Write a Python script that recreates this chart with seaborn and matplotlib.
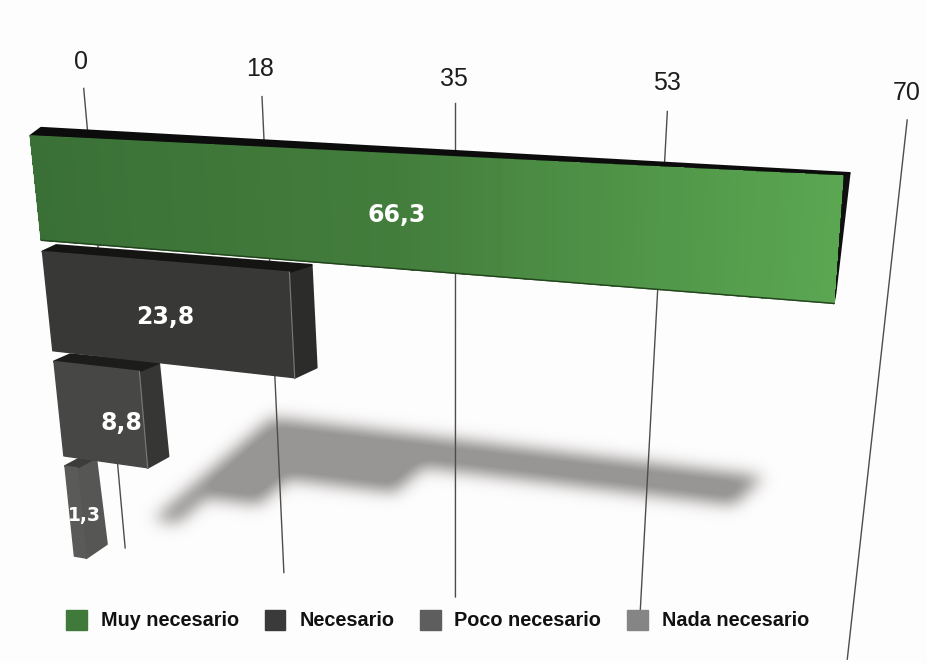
import numpy as np
import pandas as pd
import seaborn as sns
import matplotlib
matplotlib.use("Agg")
import matplotlib.pyplot as plt
from matplotlib import transforms as mt
from matplotlib.colors import LinearSegmentedColormap
from matplotlib.patches import Patch, Polygon
from matplotlib.path import Path

categories = ["Muy necesario", "Necesario", "Poco necesario", "Nada necesario"]
values = [66.3, 23.8, 8.8, 1.3]
tick_values = [0, 18, 35, 53, 70]
front_colors = ["#3f7a3a", "#383836", "#474745", "#5a5a58"]
legend_colors = ["#3f7a3a", "#3a3a3a", "#5e5e5e", "#858585"]
side_colors = ["#101010", "#2c2c2a", "#363634", "#565654"]
top_colors = ["#0c0c0c", "#141413", "#1c1c1b", "#3c3c3a"]
label_sizes = [17, 17, 17, 13.5]
label_offsets = [(2, -3), (0, -4), (21, -8), (9, -3)]
tick_offsets = [(-1, 28), (-4, 27), (1, 23), (-6, 25), (2, 23)]
rule_nudges = [1.5, -2, 3, -5.5, 3.5]
rule_starts = [-0.005, 0, 0.002, 0.004, 0.006]
rule_ends = [1.007, 1.007, 1.005, 1.0, 1.011]

W, H = 927, 663
BAR_W = 0.9


class Homography(mt.Transform):
    input_dims = output_dims = 2

    def __init__(self, m):
        super().__init__()
        self.m = m

    def transform_non_affine(self, xy):
        xy = np.asarray(xy, float)
        q = np.c_[xy, np.ones(len(xy))] @ self.m.T
        return q[:, :2] / q[:, 2:3]


def fit(pairs):
    rows = []
    for (u, v), (x, y) in pairs:
        rows.append([u, v, 1, 0, 0, 0, -x * u, -x * v, -x])
        rows.append([0, 0, 0, u, v, 1, -y * u, -y * v, -y])
    return np.linalg.svd(np.array(rows, float))[2][-1].reshape(3, 3)


flip = mt.Affine2D().scale(1, -1).translate(0, H)

# Perspective calibration: (value, row) on each plane -> picture position
front_h = Homography(fit([
    ((0, -.45), (31, 136)), ((66.3, -.45), (844, 178)), ((66.3, .45), (833, 303)), ((0, .45), (40, 241)),
    ((0, .55), (44, 251)), ((23.8, .55), (290, 269)), ((23.8, 1.45), (293, 377)), ((0, 1.45), (52, 352)),
    ((0, 1.55), (54, 361)), ((8.8, 1.55), (138, 372)), ((8.8, 2.45), (148, 467)), ((0, 2.45), (62, 457)),
    ((0, 2.55), (64, 467)), ((1.3, 2.55), (80, 466)), ((1.3, 3.45), (90, 558)), ((0, 3.45), (72, 557)),
]))
back_h = Homography(fit([
    ((0, -.45), (42, 129)), ((66.3, -.45), (848, 167)), ((66.3, .45), (836, 300)),
    ((0, .55), (56, 243)), ((23.8, .55), (312, 263)), ((23.8, 1.45), (315, 367)),
    ((0, 1.55), (66, 355)), ((8.8, 1.55), (165, 365)), ((8.8, 2.45), (170, 452)),
    ((0, 2.55), (74, 458)), ((1.3, 2.55), (102, 462)), ((1.3, 3.45), (108, 541)),
]))
wall_h = Homography(fit([
    ((0, 0), (84, 88)), ((18, 0), (262, 95)), ((35, 0), (455, 102)), ((53, 0), (668, 110)), ((70, 0), (907, 118)),
    ((0, 1), (125, 548)), ((18, 1), (283, 573)), ((35, 1), (455, 597)), ((53, 1), (640, 612)), ((70, 1), (848, 660)),
]))
floor_h = Homography(fit([
    ((0, -.45), (278, 420)), ((66.3, -.45), (755, 477)), ((0, 3.45), (165, 517)), ((66.3, 3.45), (645, 578)),
]))
front_t = front_h + flip
wall_t = wall_h + flip

sns.set_theme(style="white")
plt.rcParams["font.family"] = ["Liberation Sans", "DejaVu Sans"]

df = pd.DataFrame({"categoria": categories, "valor": values})
fig = plt.figure(figsize=(W / 100, H / 100), dpi=100, facecolor="#fefdfd")
ax = fig.add_axes([0, 0, 1, 1])
sns.barplot(data=df, x="valor", y="categoria", hue="categoria", order=categories, hue_order=categories,
            palette=front_colors, saturation=1, width=BAR_W, dodge=False, legend=False, ax=ax)
ax.set_xlim(0, 70)
ax.axis("off")
ax.patch.set_visible(False)

bars = [b for b in ax.patches]
rects = [(b.get_x(), b.get_y(), b.get_width(), b.get_height()) for b in bars]


def corners(x, y, w, h):
    return np.array([[x, y], [x + w, y], [x + w, y + h], [x, y + h]])


# Soft floor shadow derived from the same bars, rows merged by the blur
yy, xx = np.mgrid[0:H, 0:W]
grid = np.c_[xx.ravel() + .5, yy.ravel() + .5]
mask = np.zeros(H * W, bool)
for x, y, w, h in rects:
    mask |= Path(floor_h.transform(corners(x - 1.0, y - .04, w + 2.0, h + .18))).contains_points(grid)
mask = mask.reshape(H, W).astype(float)
k = np.exp(-.5 * (np.arange(-24, 25) / 8.0) ** 2)
k /= k.sum()
mask = np.apply_along_axis(lambda a: np.convolve(a, k, "same"), 0, mask)
mask = np.apply_along_axis(lambda a: np.convolve(a, k, "same"), 1, mask)
shadow = np.zeros((H, W, 4))
shadow[..., :3] = np.array([0x8c, 0x8a, 0x88]) / 255
shadow[..., 3] = np.clip(mask * 1.15, 0, 1) * .9
fig.figimage(shadow, origin="upper", zorder=-1)

# Axis rules and tick labels on the back wall
for t, dx, y0_, y1_, off in zip(tick_values, rule_nudges, rule_starts, rule_ends, tick_offsets):
    ax.vlines(t, y0_, y1_, transform=wall_t + mt.Affine2D().translate(dx, 0), colors="#4f4c49",
              linewidth=1, zorder=1, clip_on=False)
    ax.annotate(str(t), xy=(t, 0), xycoords=wall_t, xytext=off, textcoords="offset pixels",
                ha="center", va="center", fontsize=18, color="#1d1d1b", zorder=2)

# Extruded boxes, drawn from the lowest row up
for i, (b, r) in enumerate(zip(bars, rects)):
    z = 10 + (3 - i) * 3
    f = front_h.transform(corners(*r))
    k_ = back_h.transform(corners(*r))
    ax.add_patch(Polygon([f[1], k_[1], k_[2], f[2]], closed=True, transform=flip, fc=side_colors[i],
                         ec=side_colors[i], lw=1.5, joinstyle="round", zorder=z, clip_on=False))
    ax.add_patch(Polygon([f[0], k_[0], k_[1], f[1]], closed=True, transform=flip, fc=top_colors[i],
                         ec=top_colors[i], lw=1.5, joinstyle="round", zorder=z, clip_on=False))
    b.set_transform(front_t)
    b.set_clip_on(False)
    b.set_edgecolor(front_colors[i])
    b.set_linewidth(1)
    b.set_joinstyle("round")
    b.set_zorder(z + 1)

# Left-to-right light on the long bar
x0, y0, w0, h0 = rects[0]
xs = np.linspace(x0, x0 + w0, 80)
grad = LinearSegmentedColormap.from_list("g", ["#3a7036", "#437d3c", "#5aa651"])
ax.pcolormesh(xs, [y0, y0 + h0], ((xs[:-1] + xs[1:]) / 2)[None, :], cmap=grad, transform=front_t,
              zorder=20, clip_on=False, shading="flat", antialiased=False)
# thin dark rim under the long bar
ax.plot([x0, x0 + w0], [y0 + h0, y0 + h0], transform=front_t, color="#24431f", lw=1, zorder=21, clip_on=False)

# Highlight on the front right edge of the middle bars
for i in (1, 2):
    x, y, w, h = rects[i]
    ax.plot([x + w, x + w], [y, y + h], transform=front_t, color="#7a7a78", lw=.8, zorder=10 + (3 - i) * 3 + 2,
            clip_on=False)

# Value labels
for i, (v, r) in enumerate(zip(values, rects)):
    ax.annotate(f"{v:.1f}".replace(".", ","), xy=(r[0] + r[2] / 2, r[1] + r[3] / 2), xycoords=front_t,
                xytext=label_offsets[i], textcoords="offset pixels", ha="center", va="center",
                color="white", fontsize=label_sizes[i], fontweight="bold", family="DejaVu Sans", zorder=40)

handles = [Patch(facecolor=c, edgecolor=c) for c in legend_colors]
leg = ax.legend(handles, categories, ncol=4, loc="center", bbox_to_anchor=(437.5 / W, 1 - 620 / H),
                bbox_transform=fig.transFigure, frameon=False, borderpad=0, borderaxespad=0,
                prop={"family": "Liberation Sans", "weight": "bold", "size": 14.3},
                handlelength=1.05, handleheight=1.2, handletextpad=.7, columnspacing=1.28)
leg.set_zorder(50)
for t in leg.get_texts():
    t.set_color("#111111")

fig.savefig("out.png", dpi=100, facecolor=fig.get_facecolor())
